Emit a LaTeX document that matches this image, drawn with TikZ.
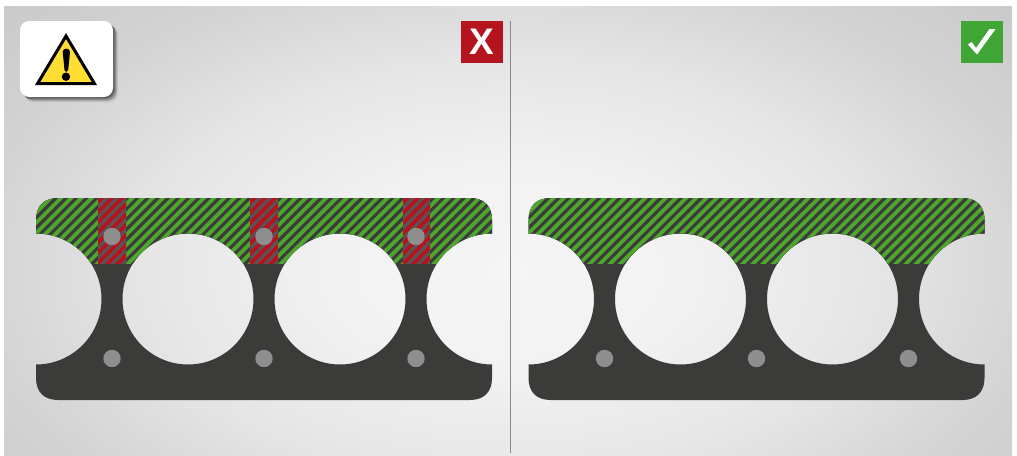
\documentclass[tikz,border=0pt]{standalone}
\usepackage{fontspec}
\setmainfont{Liberation Sans}
\definecolor{plate}{HTML}{3B3B3A}
\definecolor{hatchgreen}{HTML}{4FA62E}
\definecolor{badred}{HTML}{B5141F}
\definecolor{banddark}{HTML}{5A5254}
\definecolor{goodgreen}{HTML}{3FA535}
\definecolor{peg}{HTML}{8E8E8E}
\definecolor{signyellow}{HTML}{FFDD33}
\definecolor{divider}{HTML}{8A8A8A}
\pgfdeclareradialshading{bgshade}{\pgfpoint{0bp}{0bp}}{color(0bp)=(white!96!black); color(6bp)=(white!95!black); color(13bp)=(white!90!black); color(19bp)=(white!83!black); color(26bp)=(white!78!black); color(50bp)=(white!76!black)}
\tikzset{
  pegdot/.style={fill=peg,draw=none},
  stripe/.style={line width=3.8pt,line cap=butt},
  badge/.style={minimum size=42pt,inner sep=0pt,outer sep=0pt,draw=none}
}
\newcommand{\holes}{(36,299) circle[radius=65.5] (188,299) circle[radius=65.5] (340,299) circle[radius=65.5] (492,299) circle[radius=65.5]}
\newcommand{\hatchband}[4]{%
  \begin{scope}
    \clip (#1,198) rectangle (#2,263.5);
    \fill[#4] (#1,198) rectangle (#2,263.5);
    \foreach \k in {0,10.2,...,560} {
      \draw[stripe,#3] (\k-60,268) -- (\k+19,189);
    }
  \end{scope}}
\newcommand{\plate}{%
  \begin{scope}
    \clip (58,198) -- (470,198) .. controls (484,198) and (492,206) .. (492,220) -- (492,378)
      .. controls (492,392) and (484,400) .. (470,400) -- (58,400)
      .. controls (44,400) and (36,392) .. (36,378) -- (36,220)
      .. controls (36,206) and (44,198) .. (58,198) -- cycle;
    \fill[plate,even odd rule] (20,180) rectangle (510,420) \holes;
    \begin{scope}[even odd rule]
      \clip (20,180) rectangle (510,420) \holes;
      \hatchband{30}{500}{hatchgreen}{plate}
    \end{scope}
  \end{scope}}
\begin{document}
\begin{tikzpicture}[x=1pt,y=-1pt]
\useasboundingbox (0,0) rectangle (1017,455);
\fill[white] (0,0) rectangle (1017,455);
\begin{scope}
  \clip (4,6) rectangle (1012,455);
  \shade[shading=bgshade] (-190,-130) rectangle (1210,670);
\end{scope}
\draw[divider,line width=1pt] (510.5,21) -- (510.5,453);
% left plate
\plate
\begin{scope}[even odd rule]
  \clip (20,180) rectangle (510,420) \holes;
  \hatchband{98}{126}{badred}{banddark}
  \hatchband{250}{278}{badred}{banddark}
  \hatchband{403}{430}{badred}{banddark}
\end{scope}
\foreach \px in {112,264,416} {
  \fill[pegdot] (\px,236.5) circle[radius=8.7];
  \fill[pegdot] (\px,358.5) circle[radius=8.7];
}
% right plate
\begin{scope}[xshift=492.5pt]
  \plate
  \foreach \px in {112,264,416} \fill[pegdot] (\px,358.5) circle[radius=8.7];
\end{scope}
% warning sign
\foreach \o/\a in {5/0.08,4/0.12,3/0.16,2/0.2,1/0.25}
  \fill[black,opacity=\a,rounded corners=9pt] (20+\o,21+\o) rectangle (113+\o,97+\o);
\fill[white,rounded corners=9pt] (20,21) rectangle (113,97);
\fill[signyellow,draw=black,line width=3pt,line join=miter] (66,36) -- (94.4,83.5) -- (37.6,83.5) -- cycle;
\fill[black] (62.7,52) .. controls (62.7,47.5) and (70,47.5) .. (70,52) -- (68.2,70) .. controls (68,72.5) and (64.7,72.5) .. (64.5,70) -- cycle;
\fill[black] (66,76.7) circle[radius=4.2];
% badges
\node[badge,fill=badred,text=white,font=\bfseries\fontsize{37}{37}\selectfont] (cross) at (482,42) {X};
\node[badge,fill=goodgreen] (tick) at (982,42) {};
\fill[white] (968,44.5) -- (971.7,42) -- (976,48) -- (989.5,29) -- (995.5,29) -- (977,54.5) -- cycle;
\end{tikzpicture}
\end{document}
